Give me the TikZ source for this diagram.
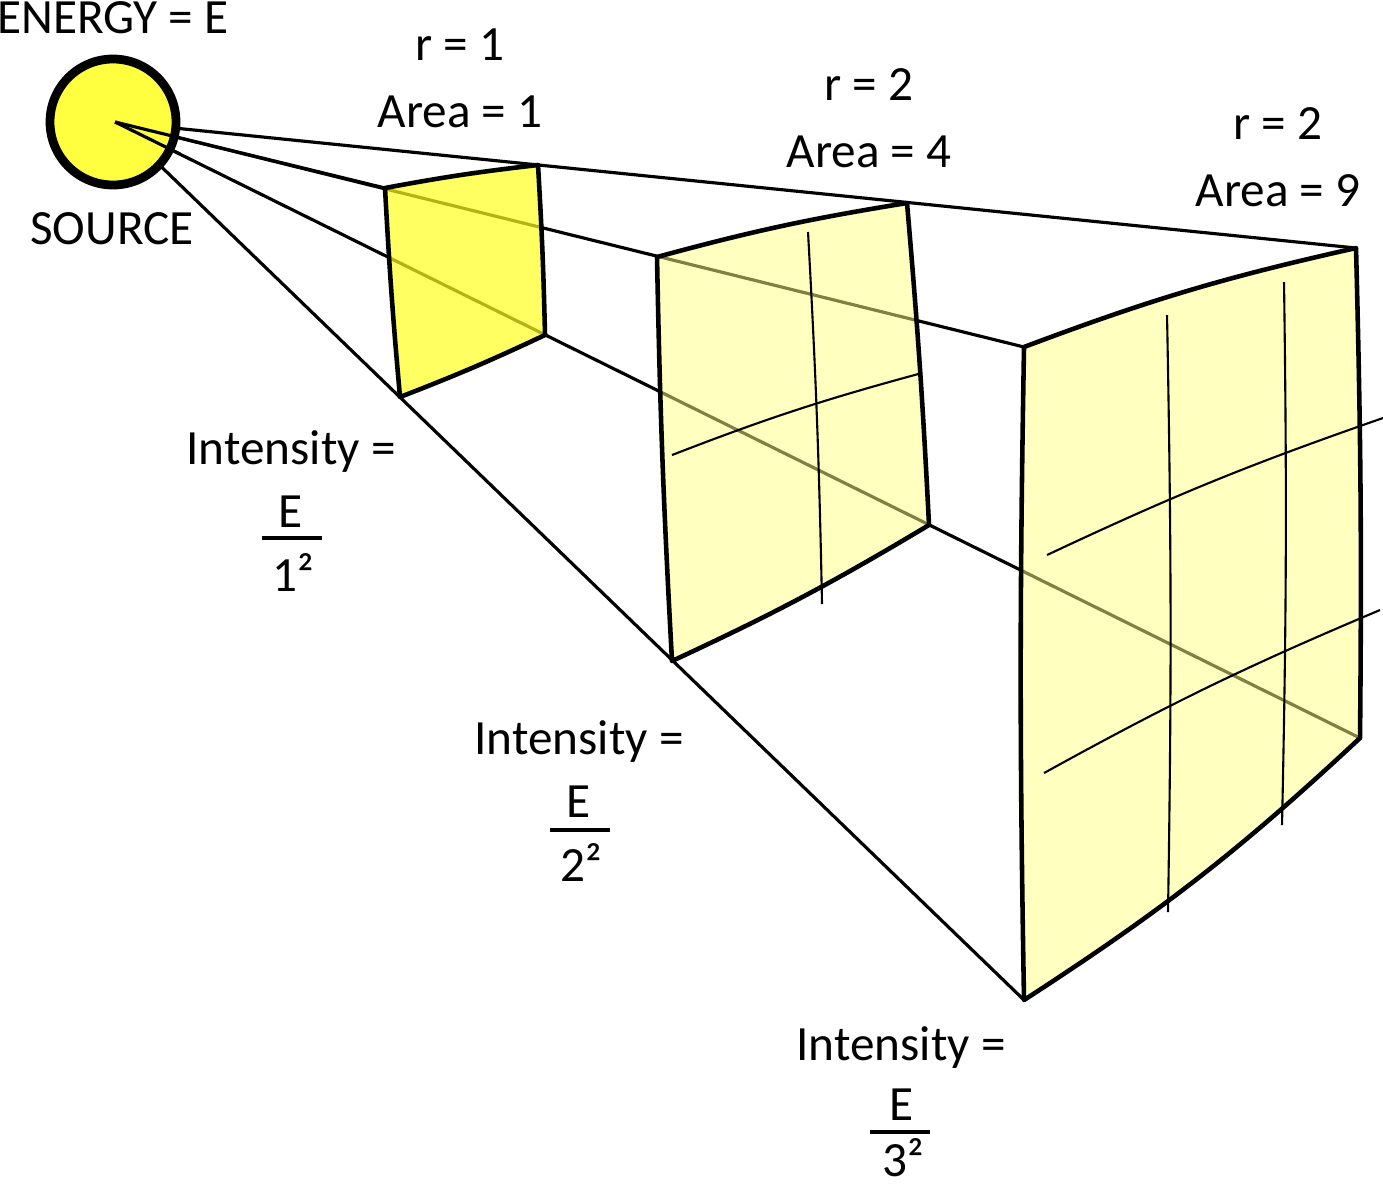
\documentclass[tikz,border=0pt]{standalone}
\usepackage{fontspec}
\setmainfont{Carlito}
\begin{document}
\begin{tikzpicture}[x=0.01cm,y=-0.01cm,
  lbl/.style={font=\fontsize{14}{17}\selectfont,inner sep=0pt},
  ray/.style={line width=0.9pt},
  edge/.style={line width=1.3pt,line join=round},
  grid/.style={line width=0.6pt}]
\useasboundingbox (0,0) rectangle (1383,1184);
\definecolor{sunY}{HTML}{FFFF40}
\definecolor{sqA}{HTML}{FFFF20}
\definecolor{sqB}{HTML}{FFFF80}
% source
\coordinate (S) at (115,122);
% rays
\draw[ray] (S) -- (1356,248);
\draw[ray] (S) -- (1024,347);
\draw[ray] (S) -- (1360,738);
\draw[ray] (S) -- (1024,1000);
% square 3
\coordinate (c1) at (1024,347); \coordinate (c2) at (1356,248);
\coordinate (c3) at (1360,738); \coordinate (c4) at (1024,1000);
\fill[sqB,opacity=0.5] (c1) to[bend left=4] (c2) to[bend left=1] (c3) to[bend left=5] (c4) to[bend left=1] cycle;
\draw[grid] (1167,315) to[bend left=1] (1168,912);
\draw[grid] (1284,282) to[bend left=1] (1282,825);
\draw[grid] (1047,555) to[bend left=3] (1383,418);
\draw[grid] (1044,773) to[bend left=3] (1380,610);
\draw[edge] (c1) to[bend left=4] (c2) to[bend left=1] (c3) to[bend left=5] (c4) to[bend left=1] cycle;
% square 2
\coordinate (b1) at (657,257); \coordinate (b2) at (907,203);
\coordinate (b3) at (929,525); \coordinate (b4) at (672,661);
\fill[sqB,opacity=0.5] (b1) to[bend left=3] (b2) to[bend left=1] (b3) to[bend left=3] (b4) to[bend left=1] cycle;
\draw[grid] (808,232) to[bend left=1] (822,604);
\draw[grid] (672,455) to[bend left=3] (922,373);
\draw[edge] (b1) to[bend left=3] (b2) to[bend left=1] (b3) to[bend left=3] (b4) to[bend left=1] cycle;
% square 1
\coordinate (a1) at (385,188); \coordinate (a2) at (538,165);
\coordinate (a3) at (545,335); \coordinate (a4) at (400,397);
\fill[sqA,opacity=0.7] (a1) to[bend left=2] (a2) to[bend left=1] (a3) to[bend left=2] (a4) to[bend left=1] cycle;
\draw[edge] (a1) to[bend left=2] (a2) to[bend left=1] (a3) to[bend left=2] (a4) to[bend left=1] cycle;
% sun
\draw[line width=2.5pt,fill=sunY] (S) ++(-2,0) circle[radius=63];
\draw[ray] (S) -- (385,188);
\draw[ray] (S) -- (180,154);
% labels
\node[lbl] (energy) at (113,18) {ENERGY = E};
\node[lbl] (source) at (112,229) {SOURCE};
\node[lbl,align=center] (r1) at (460,78) {r = 1\\[2pt]Area = 1};
\node[lbl,align=center] (r2) at (869,118) {r = 2\\[2pt]Area = 4};
\node[lbl,align=center] (r3) at (1278,157) {r = 2\\[2pt]Area = 9};
\node[lbl] (i1) at (291,452) {Intensity =};
\node[lbl] (e1) at (291,512) {E};
\draw[line width=1.2pt] (262,538) -- (322,538);
\node[lbl] (d1) at (293,572) {1²};
\node[lbl] (i2) at (579,742) {Intensity =};
\node[lbl] (e2) at (579,802) {E};
\draw[line width=1.2pt] (550,830) -- (610,830);
\node[lbl] (d2) at (581,862) {2²};
\node[lbl] (i3) at (901,1047) {Intensity =};
\node[lbl] (e3) at (901,1105) {E};
\draw[line width=1.2pt] (870,1132) -- (930,1132);
\node[lbl] (d3) at (903,1158) {3²};
\end{tikzpicture}
\end{document}
